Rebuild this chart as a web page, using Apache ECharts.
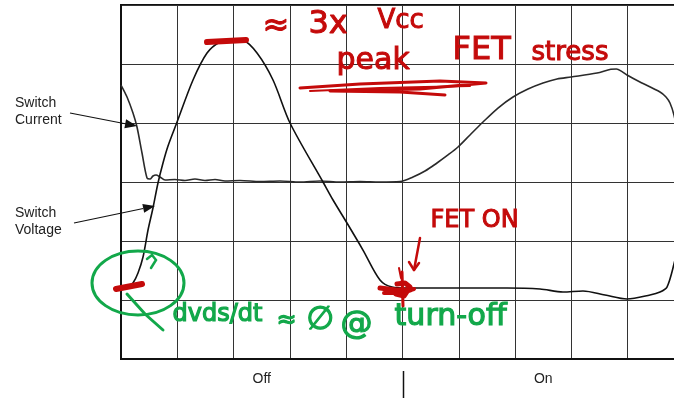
<!DOCTYPE html>
<html>
<head>
<meta charset="utf-8">
<script src="https://cdn.jsdelivr.net/npm/echarts@6/dist/echarts.min.js"></script>
<style>html,body{margin:0;padding:0;background:#fff;overflow:hidden;width:674px;height:398px;}#c{width:700px;height:398px;}</style>
</head>
<body>
<div id="c"></div>
<script>
// Switch voltage trace [time division, vertical division]
const voltageX = [0, 0.124, 0.213, 0.302, 0.391, 0.480, 0.568, 0.657, 0.746, 0.835, 0.989, 1.279, 1.528, 1.758, 1.989, 2.167, 2.416, 2.700, 3.002, 3.588, 3.766, 4.014, 4.298, 4.600, 4.813, 5.080, 6.075, 6.856, 7.442, 7.851, 8.206, 8.597, 8.988, 9.396, 9.574, 9.698, 9.822, 9.893, 9.96];
const voltageY = [1.203, 1.220, 1.288, 1.458, 1.729, 2.186, 2.559, 2.983, 3.322, 3.610, 4.000, 4.729, 5.186, 5.373, 5.424, 5.407, 5.186, 4.729, 4.000, 3.000, 2.695, 2.305, 1.847, 1.339, 1.220, 1.203, 1.203, 1.203, 1.186, 1.136, 1.153, 1.085, 1.017, 1.085, 1.136, 1.220, 1.610, 1.930, 2.6];
// Switch current trace
const currentX = [0, 0.107, 0.213, 0.284, 0.373, 0.462, 0.515, 0.568, 0.622, 0.693, 0.782, 0.959, 1.137, 1.314, 1.492, 1.670, 1.847, 2.114, 2.469, 2.824, 3.179, 3.535, 3.890, 4.245, 4.600, 4.956, 5.187, 5.400, 5.613, 5.808, 5.986, 6.199, 6.430, 6.696, 6.963, 7.229, 7.496, 7.744, 7.993, 8.455, 8.700, 8.800, 8.900, 8.988, 9.218, 9.574, 9.680, 9.751, 9.822, 9.893, 9.96];
const currentY = [4.644, 4.441, 4.169, 3.932, 3.492, 3.068, 3.051, 3.102, 3.119, 3.085, 3.034, 3.042, 3.025, 3.051, 3.025, 3.042, 3.017, 3.025, 3.008, 3.017, 3.000, 3.017, 3.000, 3.008, 3.000, 3.008, 3.085, 3.186, 3.322, 3.458, 3.593, 3.797, 4.017, 4.254, 4.441, 4.576, 4.678, 4.746, 4.780, 4.847, 4.910, 4.915, 4.870, 4.814, 4.695, 4.525, 4.441, 4.339, 4.136, 3.797, 3.2];
// Bottom phase labels
const phaseLabels = ['Off', 'On'];
const phaseCenters = [2.5, 7.5];
const phaseDivider = 5;

const voltage = voltageX.map((x, i) => [x, voltageY[i]]);
const current = currentX.map((x, i) => [x, currentY[i]]);

const chart = echarts.init(document.getElementById('c'), null, {renderer: 'canvas'});
const axisCommon = {
  type: 'value',
  axisLabel: {show: false},
  axisTick: {show: false},
  axisLine: {show: true, lineStyle: {color: '#111', width: 2}},
  splitLine: {show: true, lineStyle: {color: '#333', width: 1}}
};
const option = {
  animation: false,
  backgroundColor: '#fff',
  grid: {left: 121, top: 5, width: 563, height: 354, show: true, borderColor: '#111', borderWidth: 2, backgroundColor: 'transparent'},
  xAxis: Object.assign({}, axisCommon, {min: 0, max: 10, interval: 1}),
  yAxis: Object.assign({}, axisCommon, {min: 0, max: 6, interval: 1}),
  series: [
    {type: 'line', data: current, showSymbol: false, smooth: 0.3, lineStyle: {color: '#2a2a2a', width: 1.6}, z: 3},
    {type: 'line', data: voltage, showSymbol: false, smooth: 0.3, lineStyle: {color: '#111', width: 1.6}, z: 4}
  ]
};
chart.setOption(option);

const red = '#c40a0a';
const green = '#12a84a';
const hand = '"DejaVu Sans", sans-serif';
const g = [];
// left labels
const lab = (t, x, y) => ({type: 'text', left: x, top: y, style: {text: t, font: '14px "Liberation Sans", Arial, sans-serif', fill: '#222'}, z: 10});
g.push(lab('Switch', 15, 96), lab('Current', 15, 113), lab('Switch', 15, 206), lab('Voltage', 15, 223));
// arrows
function arrow(x1, y1, x2, y2, col, w) {
  const a = Math.atan2(y2 - y1, x2 - x1), L = 12, W = 4.5;
  const bx = x2 - L * Math.cos(a), by = y2 - L * Math.sin(a);
  const nx = -Math.sin(a) * W, ny = Math.cos(a) * W;
  g.push({type: 'line', shape: {x1: x1, y1: y1, x2: bx, y2: by}, style: {stroke: col, lineWidth: w}, z: 10});
  g.push({type: 'polygon', shape: {points: [[x2, y2], [bx + nx, by + ny], [bx - nx, by - ny]]}, style: {fill: col}, z: 10});
}
arrow(70, 113, 137, 126, '#111', 1.2);
arrow(74, 223, 155, 206, '#111', 1.2);
// phase labels and divider
const yBase = chart.convertToPixel({gridIndex: 0}, [0, 0])[1];
phaseLabels.forEach((t, i) => {
  const px = chart.convertToPixel({gridIndex: 0}, [phaseCenters[i], 0])[0];
  g.push({type: 'text', x: px, y: yBase + 20, style: {text: t, font: '14px "Liberation Sans", Arial, sans-serif', fill: '#222', align: 'center', verticalAlign: 'middle'}, z: 10});
});
const dx = Math.round(chart.convertToPixel({gridIndex: 0}, [phaseDivider, 0])[0]) + 0.5;
g.push({type: 'line', shape: {x1: dx, y1: yBase + 12, x2: dx, y2: 398}, style: {stroke: '#111', lineWidth: 1.5}, z: 10});

// red annotations
const rt = (t, x, y, s) => ({type: 'text', left: x, top: y, style: {text: t, font: s + 'px ' + hand, fill: red, stroke: red, lineWidth: 1}, z: 12});
g.push(rt('≈', 262, 10, 32), rt('3x', 308, 8, 32), rt('Vcc', 377, 8, 26));
g.push(rt('peak', 336, 46, 30), rt('FET', 452, 34, 32), rt('stress', 531, 40, 26));
g.push(rt('FET ON', 430, 208, 24));
const rl = (pts, w) => g.push({type: 'polyline', shape: {points: pts}, style: {stroke: red, lineWidth: w, lineCap: 'round', lineJoin: 'round', fill: null}, z: 12});
rl([[300, 88], [360, 84], [440, 81], [486, 83], [420, 89], [330, 91], [400, 92], [445, 95]], 3);
rl([[310, 91], [380, 88], [470, 86]], 2);
rl([[207, 42], [246, 40]], 6);
rl([[116, 289], [142, 284]], 6);
rl([[380, 288], [396, 290], [410, 290]], 5);
rl([[384, 293], [400, 293], [414, 289]], 4);
rl([[402, 272], [403, 306]], 3);
rl([[397, 284], [405, 283], [410, 287], [404, 296], [396, 294]], 5);
rl([[420, 238], [414, 270]], 2.5);
rl([[409, 262], [414, 270], [419, 263]], 2.5);
rl([[399, 268], [401, 278]], 2);

// green annotations
g.push({type: 'ellipse', shape: {cx: 138, cy: 283, rx: 46, ry: 32}, style: {stroke: green, lineWidth: 3, fill: null}, z: 11});
g.push({type: 'polyline', shape: {points: [[127, 294], [145, 314], [163, 330]]}, style: {stroke: green, lineWidth: 3, lineCap: 'round', fill: null}, z: 11});
g.push({type: 'polyline', shape: {points: [[147, 259], [152, 255], [156, 260], [151, 268]]}, style: {stroke: green, lineWidth: 2.5, lineCap: 'round', fill: null}, z: 11});
const gt = (t, x, y, s) => ({type: 'text', left: x, top: y, style: {text: t, font: s + 'px ' + hand, fill: green, stroke: green, lineWidth: 1.2}, z: 12});
g.push(gt('dvds/dt', 172, 302, 24), gt('≈', 276, 308, 24), gt('∅', 306, 304, 32), gt('@', 340, 308, 32), gt('turn-off', 394, 302, 30));

chart.setOption({graphic: g});
</script>
</body>
</html>
